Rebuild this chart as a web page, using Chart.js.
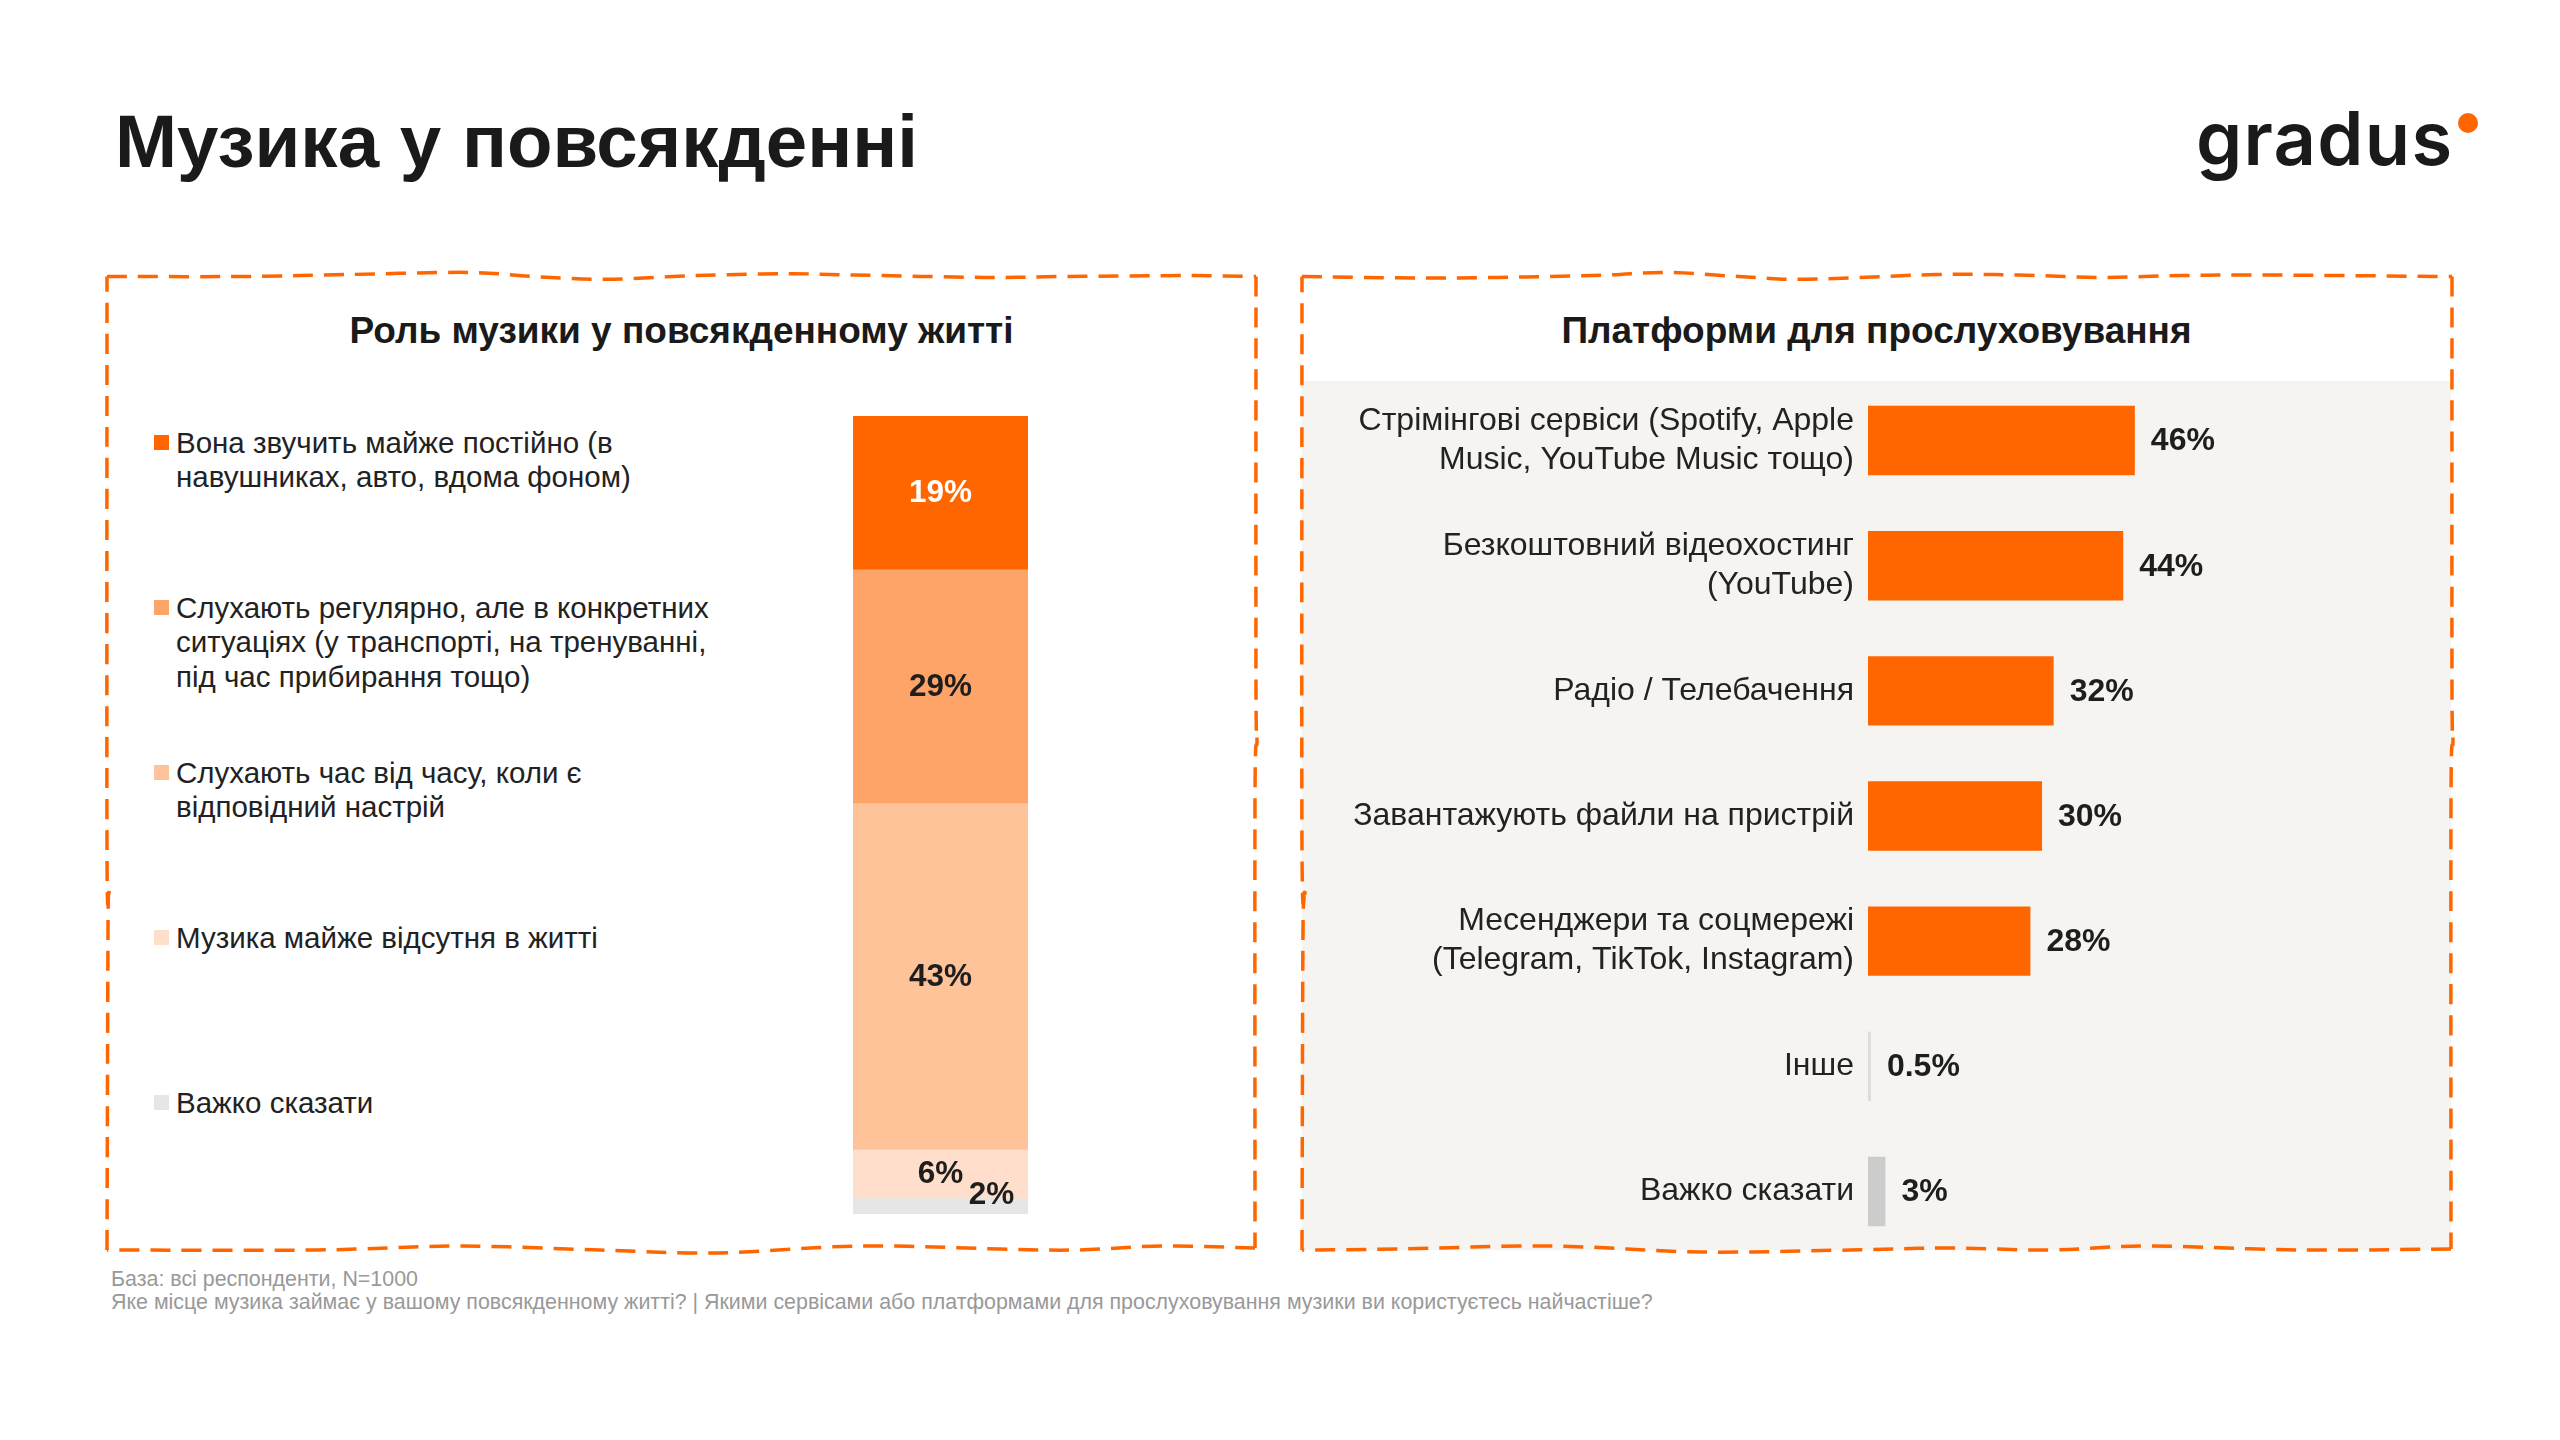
<!DOCTYPE html>
<html lang="uk">
<head>
<meta charset="utf-8">
<script src="https://cdn.jsdelivr.net/npm/chart.js@4.4.1/dist/chart.umd.min.js"></script>
<style>
  html, body { margin:0; padding:0; background:#fff; }
  body { width:2560px; height:1440px; position:relative; overflow:hidden; font-family:"Liberation Sans", Arial, sans-serif; color:#1e1e1e; }
  .abs { position:absolute; }
  #title { left:115px; top:105px; font-size:74.5px; font-weight:bold; line-height:1; white-space:nowrap; color:#1a1a1a; }
  #logo { left:2196px; top:101px; font-family:Inter, sans-serif; font-weight:600; font-size:74px; line-height:1; letter-spacing:1.3px; color:#1a1a1a; }
  #logoDot { left:2458px; top:113px; width:20px; height:20px; border-radius:50%; background:#FF6600; }
  .ptitle { top:311.7px; font-size:37px; font-weight:bold; line-height:1; white-space:nowrap; text-align:center; color:#1a1a1a; }
  #rightBg { left:1302px; top:381px; width:1149px; height:869px; background:#F5F4F1; }
  .leg { left:154px; width:600px; font-size:29.5px; line-height:34.5px; color:#222; }
  .leg .sw { position:absolute; left:0; top:9.5px; width:15px; height:15px; }
  .leg .tx { position:absolute; left:22px; top:0; white-space:nowrap; }
  .foot { left:111px; font-size:21.4px; line-height:23px; color:#999; white-space:nowrap; }
  svg#frames { position:absolute; left:0; top:0; }
</style>
</head>
<body>
<div id="rightBg" class="abs"></div>
<div id="title" class="abs">Музика у повсякденні</div>
<div id="logo" class="abs">gradus</div>
<div id="logoDot" class="abs"></div>

<div class="abs ptitle" style="left:107px;width:1149px;">Роль музики у повсякденному житті</div>
<div class="abs ptitle" style="left:1302px;width:1149px;">Платформи для прослуховування</div>

<div id="legend"></div>

<canvas id="roleChart" class="abs" style="left:830px;top:396px;"></canvas>
<canvas id="platChart" class="abs" style="left:1302px;top:378px;"></canvas>

<div class="abs foot" style="top:1268px;">База: всі респонденти, N=1000</div>
<div class="abs foot" style="top:1291px;">Яке місце музика займає у вашому повсякденному житті? | Якими сервісами або платформами для прослуховування музики ви користуєтесь найчастіше?</div>

<svg id="frames" width="2560" height="1440"></svg>

<script>
// ---------- DATA ----------
const roleCategories = [
  ['Вона звучить майже постійно (в', 'навушниках, авто, вдома фоном)'],
  ['Слухають регулярно, але в конкретних', 'ситуаціях (у транспорті, на тренуванні,', 'під час прибирання тощо)'],
  ['Слухають час від часу, коли є', 'відповідний настрій'],
  ['Музика майже відсутня в житті'],
  ['Важко сказати']
];
const roleValues = [19, 29, 43, 6, 2];
const roleColors = ['#FF6600', '#FFA468', '#FFC399', '#FFDFCB', '#E6E6E6'];
const roleLabelColors = ['#FFFFFF', '#1e1e1e', '#1e1e1e', '#1e1e1e', '#1e1e1e'];

const platformCategories = [
  ['Стрімінгові сервіси (Spotify, Apple', 'Music, YouTube Music тощо)'],
  ['Безкоштовний відеохостинг', '(YouTube)'],
  'Радіо / Телебачення',
  'Завантажують файли на пристрій',
  ['Месенджери та соцмережі', '(Telegram, TikTok, Instagram)'],
  'Інше',
  'Важко сказати'
];
const platformValues = [46, 44, 32, 30, 28, 0.5, 3];
const platformColors = ['#FF6600', '#FF6600', '#FF6600', '#FF6600', '#FF6600', '#DCDCDC', '#CCCCCC'];

// ---------- LEGEND (HTML) ----------
const legendEl = document.getElementById('legend');
roleCategories.forEach((lines, i) => {
  const d = document.createElement('div');
  d.className = 'abs leg';
  d.style.top = (425.5 + 165 * i) + 'px';
  d.innerHTML = '<div class="sw" style="background:' + roleColors[i] + '"></div><div class="tx">' + lines.join('<br>') + '</div>';
  legendEl.appendChild(d);
});

Chart.defaults.font.family = '"Liberation Sans", Arial, sans-serif';
Chart.defaults.color = '#1e1e1e';

// ---------- LEFT: stacked bar ----------
const roleLabelPlugin = {
  id: 'roleLabels',
  afterDatasetsDraw(chart) {
    const ctx = chart.ctx;
    ctx.save();
    ctx.font = 'bold 31.5px "Liberation Sans", Arial, sans-serif';
    ctx.textAlign = 'center';
    ctx.textBaseline = 'middle';
    chart.data.datasets.forEach((ds, i) => {
      const el = chart.getDatasetMeta(i).data[0];
      const p = el.getCenterPoint();
      let x = p.x, y = p.y;
      if (ds.data[0] < 3) { x += 51; y -= 12; }
      ctx.fillStyle = roleLabelColors[i];
      ctx.fillText(ds.data[0] + '%', x, y + 1);
    });
    ctx.restore();
  }
};
const rc = document.getElementById('roleChart');
rc.width = 230; rc.height = 840;
new Chart(rc, {
  type: 'bar',
  data: {
    labels: [''],
    datasets: roleValues.map((v, i) => ({
      label: roleCategories[i].join(' '),
      data: [v],
      backgroundColor: roleColors[i],
      borderWidth: 0,
      barPercentage: 1,
      categoryPercentage: 1
    }))
  },
  options: {
    responsive: false, animation: false, devicePixelRatio: 1,
    layout: { padding: { left: 23, right: 32, top: 20, bottom: 22 } },
    plugins: { legend: { display: false }, tooltip: { enabled: false } },
    scales: {
      x: { stacked: true, display: false },
      y: { stacked: true, display: false, reverse: true, min: 0, max: 99 }
    }
  },
  plugins: [roleLabelPlugin]
});

// ---------- RIGHT: horizontal bars ----------
const platLabelPlugin = {
  id: 'platLabels',
  afterDatasetsDraw(chart) {
    const ctx = chart.ctx;
    ctx.save();
    ctx.font = 'bold 32px "Liberation Sans", Arial, sans-serif';
    ctx.textAlign = 'left';
    ctx.textBaseline = 'middle';
    ctx.fillStyle = '#1e1e1e';
    const meta = chart.getDatasetMeta(0);
    meta.data.forEach((el, i) => {
      ctx.fillText(String(platformValues[i]) + '%', el.x + 16, el.y + 1);
    });
    ctx.restore();
  }
};
const pc = document.getElementById('platChart');
pc.width = 1149; pc.height = 876;
new Chart(pc, {
  type: 'bar',
  data: {
    labels: platformCategories,
    datasets: [{
      data: platformValues,
      backgroundColor: platformColors,
      borderWidth: 0,
      barPercentage: 0.555,
      categoryPercentage: 1
    }]
  },
  options: {
    indexAxis: 'y',
    responsive: false, animation: false, devicePixelRatio: 1,
    layout: { padding: 0 },
    plugins: { legend: { display: false }, tooltip: { enabled: false } },
    scales: {
      x: { display: false, min: 0, max: 100.5 },
      y: {
        grid: { display: false, drawTicks: false },
        border: { display: false },
        ticks: { padding: 14, color: '#222', font: { size: 32, lineHeight: 1.22 } },
        afterFit(scale) { scale.width = 566; scale.paddingTop = 0; scale.paddingBottom = 0; }
      }
    }
  },
  plugins: [platLabelPlugin]
});

// ---------- dashed hand-drawn frames (decoration) ----------
function smoothPath(pts) {
  let d = 'M' + pts[0][0] + ',' + pts[0][1];
  for (let i = 0; i < pts.length - 1; i++) {
    const p0 = pts[i - 1] || pts[i], p1 = pts[i], p2 = pts[i + 1], p3 = pts[i + 2] || p2;
    const c1x = p1[0] + (p2[0] - p0[0]) / 6, c1y = p1[1] + (p2[1] - p0[1]) / 6;
    const c2x = p2[0] - (p3[0] - p1[0]) / 6, c2y = p2[1] - (p3[1] - p1[1]) / 6;
    d += ' C' + c1x.toFixed(1) + ',' + c1y.toFixed(1) + ' ' + c2x.toFixed(1) + ',' + c2y.toFixed(1) + ' ' + p2[0] + ',' + p2[1];
  }
  return d;
}
const frames = [
  { top: [[107,276.5],[246,276.5],[344,274.6],[467,272.4],[533,276.5],[607,279.3],[697,275.5],[787,273.7],[852,275],[984,277.4],[1066,276.5],[1189,275.6],[1256,276.5]],
    right: [[1256,276.5],[1256,690],[1257,740],[1255,800],[1255,1248]],
    bottom: [[1255,1248],[1163,1246],[1076,1250],[1000,1249],[859,1246],[718,1253],[600,1250],[458,1246],[317,1250],[107,1250]],
    left: [[107,1250],[108,930],[109,890],[107,850],[107,276.5]] },
  { top: [[1302,276.5],[1444,278],[1591,275.5],[1665,272.4],[1739,276.5],[1805,279.3],[1936,274.6],[2018,275],[2100,277.4],[2182,275.5],[2264,275],[2452,276.5]],
    right: [[2452,276.5],[2452,690],[2453,740],[2451,800],[2451,1249]],
    bottom: [[2451,1249],[2300,1250],[2150,1246],[2050,1250],[1950,1248],[1850,1250],[1700,1252],[1550,1246],[1400,1249],[1302,1250]],
    left: [[1302,1250],[1303,930],[1305,890],[1302,850],[1302,276.5]] }
];
const svg = document.getElementById('frames');
let html = '';
frames.forEach(f => {
  ['top','right','bottom','left'].forEach(k => {
    html += '<path d="' + smoothPath(f[k]) + '" fill="none" stroke="#FF6600" stroke-width="3.5" stroke-dasharray="20 11" stroke-linecap="butt"/>';
  });
});
svg.innerHTML = html;
</script>
</body>
</html>
